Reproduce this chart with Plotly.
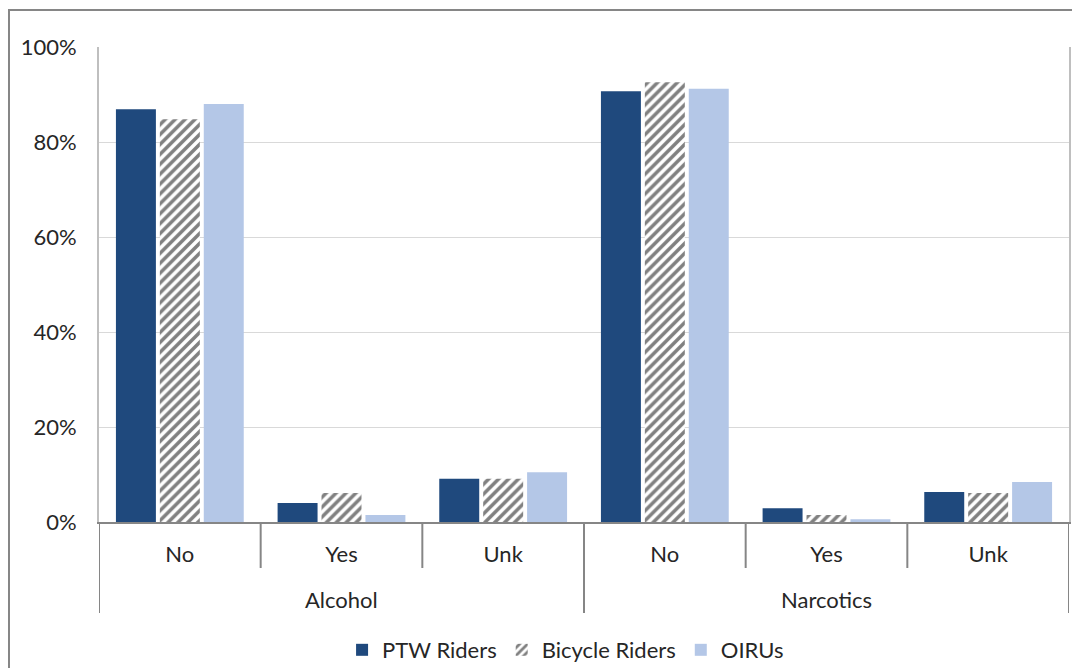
import plotly.graph_objects as go

groups = ["Alcohol", "Alcohol", "Alcohol", "Narcotics", "Narcotics", "Narcotics"]
answers = ["No", "Yes", "Unk", "No", "Yes", "Unk"]
ptw = [0.869, 0.040, 0.091, 0.907, 0.029, 0.063]
bicycle = [0.848, 0.061, 0.091, 0.926, 0.015, 0.061]
oirus = [0.880, 0.015, 0.105, 0.912, 0.006, 0.084]
y_ticks = [0, 0.2, 0.4, 0.6, 0.8, 1.0]

FONT = "Lato"
TXT = "#262626"
pos = list(range(len(answers)))

fig = go.Figure()
fig.add_trace(go.Bar(x=pos, y=ptw, name="PTW Riders", marker=dict(color="#1F497D", line=dict(width=0))))
fig.add_trace(go.Bar(x=pos, y=bicycle, name="Bicycle Riders",
                     marker=dict(color="white", line=dict(width=0),
                                 pattern=dict(shape="/", fgcolor="#808080", bgcolor="white",
                                              size=7, solidity=0.5, fillmode="replace"))))
fig.add_trace(go.Bar(x=pos, y=oirus, name="OIRUs", marker=dict(color="#B4C7E7", line=dict(width=0))))

fig.update_layout(
    width=1080, height=668,
    margin=dict(l=91, r=19, t=39, b=154, autoexpand=False),
    paper_bgcolor="white", plot_bgcolor="white",
    font=dict(family=FONT, size=22, color=TXT),
    barmode="group", bargap=0.185, bargroupgap=0.09,
    legend=dict(orientation="h", x=0.481, xanchor="center", y=-0.2695, yanchor="middle",
                font=dict(size=22), itemwidth=30, traceorder="normal"),
    showlegend=True,
)
fig.update_yaxes(range=[0, 1], tickvals=y_ticks, tickformat=".0%", automargin=False,
                 showgrid=True, gridcolor="#D9D9D9", gridwidth=1,
                 showline=True, linecolor="#BFBFBF", linewidth=2, mirror=True,
                 ticks="", ticklabelstandoff=16, zeroline=False)
fig.update_xaxes(range=[-0.5, len(answers) - 0.5], tickvals=pos, ticktext=answers,
                 automargin=False, showgrid=False, zeroline=False,
                 showline=True, linecolor="#868686", linewidth=2,
                 ticks="", ticklabelstandoff=12)

# category dividers
for b in [0.5, 1.5, 3.5, 4.5]:
    fig.add_shape(type="line", xref="x", yref="paper", x0=b, x1=b, y0=0, y1=-0.0968,
                  line=dict(color="#868686", width=2))
for b in [-0.5, 2.5, 5.5]:
    fig.add_shape(type="line", xref="x", yref="paper", x0=b, x1=b, y0=0, y1=-0.1916,
                  line=dict(color="#868686", width=2))

# group labels
for i, g in enumerate(groups):
    if i == 0 or groups[i - 1] != g:
        n = groups.count(g)
        fig.add_annotation(x=i + (n - 1) / 2, y=-0.164, xref="x", yref="paper",
                           text=g, showarrow=False, yanchor="middle",
                           font=dict(family=FONT, size=22, color=TXT))

# outer chart border (left and top edges visible)
fig.add_shape(type="rect", xref="paper", yref="paper",
              x0=-0.0928, x1=1.2, y0=-0.5, y1=1.0779,
              line=dict(color="#868686", width=2), fillcolor="rgba(0,0,0,0)", layer="below")

fig.write_html("out.html")
